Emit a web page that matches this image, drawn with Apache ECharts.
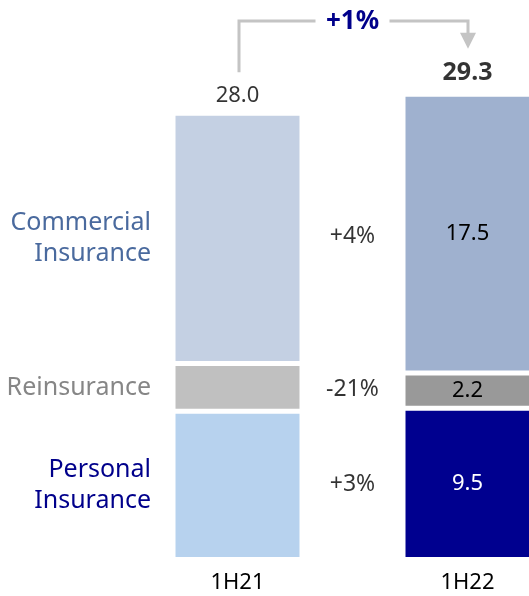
<!DOCTYPE html>
<html>
<head>
<meta charset="utf-8">
<script src="https://cdn.jsdelivr.net/npm/echarts@6/dist/echarts.min.js"></script>
<style>html,body{margin:0;padding:0;background:#fff;overflow:hidden;width:529px;height:596px;}#c{width:600px;height:596px;}</style>
</head>
<body>
<div id="c"></div>
<script>
// ---- data ----
var categories = ['1H21', '1H22'];
var segmentNames = ['Personal\nInsurance', 'Reinsurance', 'Commercial\nInsurance'];
var personal = [9.3, 9.5];
var reinsurance = [3.0, 2.2];
var commercial = [15.7, 17.5];
var totals = [28.0, 29.3];
var changes = ['+3%', '-21%', '+4%'];
var totalGrowth = '+1%';

// ---- styles ----
var FONT = 'Noto Sans';
var segColors = [
  ['#b7d2ee', '#00008f'],
  ['#c0c0c0', '#999999'],
  ['#c4d0e3', '#9fb1cf']
];
var nameColors = ['#00008b', '#868686', '#4a6a9e'];
var innerColors = ['#ffffff', '#000000', '#000000'];

var seriesValues = [personal, reinsurance, commercial];

var chart = echarts.init(document.getElementById('c'), null, {renderer: 'canvas'});

var series = seriesValues.map(function (vals, si) {
  return {
    type: 'bar',
    stack: 'total',
    barWidth: 129,
    name: segmentNames[si],
    data: vals.map(function (v, ci) {
      var first = ci === 0;
      return {
        value: v,
        itemStyle: {color: segColors[si][ci], borderColor: '#ffffff', borderWidth: 2.5},
        label: first ? {
          show: true, position: 'left', distance: 22,
          formatter: segmentNames[si], color: nameColors[si],
          fontFamily: FONT, fontSize: 25, lineHeight: 31, align: 'right'
        } : {
          show: true, position: 'inside',
          formatter: function (p) { return p.value.toFixed(1); },
          color: innerColors[si], fontFamily: FONT, fontSize: 22
        }
      };
    })
  };
});

// change labels in the middle column, placed at the mean of segment midpoints
var cum0 = 0, cum1 = 0;
var changeData = seriesValues.map(function (vals, si) {
  var m0 = cum0 + vals[0] / 2, m1 = cum1 + vals[1] / 2;
  cum0 += vals[0]; cum1 += vals[1];
  return {value: [0.5, (m0 + m1) / 2], label: {formatter: changes[si]}};
});
series.push({
  type: 'scatter', xAxisIndex: 1, symbolSize: 0, silent: true,
  data: changeData,
  label: {show: true, position: 'inside', color: '#000', fontFamily: FONT, fontSize: 23}
});

// total labels
series.push({
  type: 'scatter', xAxisIndex: 1, symbolSize: 0, silent: true,
  data: totals.map(function (t, ci) {
    return {value: [ci, t], label: {
      formatter: t.toFixed(1), fontWeight: ci === 1 ? 'bold' : 'normal',
      fontSize: ci === 1 ? 25 : 22
    }};
  }),
  label: {show: true, position: 'top', distance: 7, color: '#000', fontFamily: FONT}
});

chart.setOption({
  animation: false,
  backgroundColor: '#ffffff',
  grid: {left: 122.5, width: 460, top: 81.5, bottom: 36.5, containLabel: false},
  xAxis: [{
    type: 'category', data: categories,
    axisLine: {show: false}, axisTick: {show: false},
    axisLabel: {color: '#000', fontFamily: FONT, fontSize: 22, margin: 12}
  }, {
    type: 'value', min: -0.5, max: 1.5, show: false, splitLine: {show: false}
  }],
  yAxis: {type: 'value', min: 0, max: 30, show: false, splitLine: {show: false}},
  series: series
});

// growth arrow annotation
var p0 = chart.convertToPixel({xAxisIndex: 1, yAxisIndex: 0}, [0, totals[0]]);
var pm = chart.convertToPixel({xAxisIndex: 1, yAxisIndex: 0}, [0.5, totals[1]]);
var p1 = chart.convertToPixel({xAxisIndex: 1, yAxisIndex: 0}, [1, totals[1]]);
var yTop = 21;
var lineStyle = {stroke: '#c4c4c4', lineWidth: 3, fill: null};
var gapHalf = 37;
var leftX = p0[0] + 1.5, rightX = p1[0] + 0.5;
var tipY = p1[1] - 44;
chart.setOption({
  graphic: [
    {type: 'polyline', shape: {points: [[leftX, p0[1] - 41], [leftX, yTop], [pm[0] - gapHalf, yTop]]}, style: lineStyle, silent: true},
    {type: 'polyline', shape: {points: [[pm[0] + gapHalf, yTop], [rightX, yTop], [rightX, tipY - 14]]}, style: lineStyle, silent: true},
    {type: 'polygon', shape: {points: [[rightX - 8, tipY - 16], [rightX + 8, tipY - 16], [rightX, tipY]]}, style: {fill: '#c4c4c4'}, silent: true},
    {type: 'text', x: pm[0], y: yTop + 1, style: {text: totalGrowth, fill: '#00008b', font: 'bold 26px "Noto Sans"', textAlign: 'center', textVerticalAlign: 'middle'}, silent: true}
  ]
});
</script>
</body>
</html>
